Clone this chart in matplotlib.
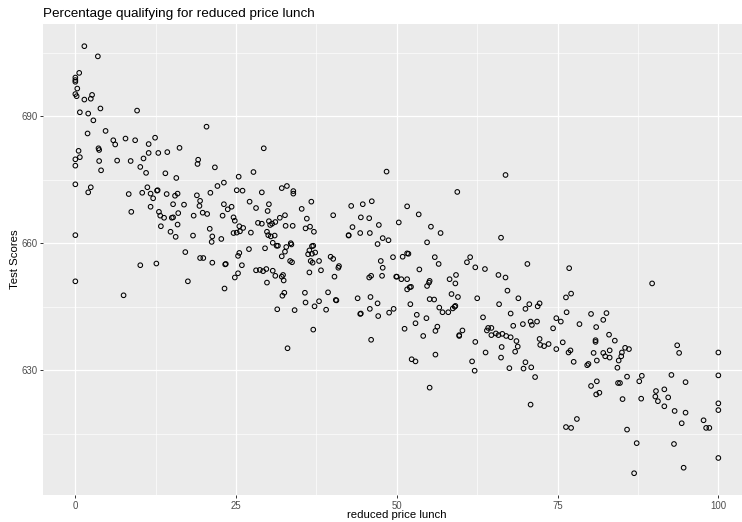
import matplotlib
matplotlib.use("Agg")
import matplotlib.pyplot as plt
import numpy as np

plt.rcParams['font.family'] = ['Liberation Sans', 'DejaVu Sans']

# (reduced price lunch %, test score) pairs
points = [
    # upper-left block
    (1.4,706.5),(3.5,704.1),(0.6,700.2),(0,699.1),(0,698.5),(0,698.1),(0.3,696.5),(0,695.2),(0.2,694.7),(1.4,693.9),
    (2.6,695.0),(2.4,694.1),(3.9,691.8),(0.7,690.9),(2.0,690.6),(9.6,691.3),(2.8,689.0),(1.9,685.9),(4.7,686.5),(20.4,687.5),
    (5.9,684.3),(6.2,683.3),(7.8,684.7),(9.3,684.3),(12.4,684.9),(11.4,683.4),(16.2,682.5),(0.5,681.8),(0.7,680.3),(0,679.8),
    (0,678.3),(3.6,682.4),(3.7,682.0),(3.7,679.4),(4.0,677.2),(6.5,679.5),(8.6,679.4),(11.4,681.3),(12.9,681.3),(14.3,681.5),
    (10.6,680.0),(10.1,678.0),(11.0,676.6),(14.0,676.5),(15.7,675.4),(19.1,679.7),(19.0,678.7),(21.7,677.9),(0,673.9),(2.4,673.2),
    (2.0,672.0),(8.3,671.6),(10.4,671.9),(11.2,673.2),(12.8,672.5),(12.7,672.4),(11.7,671.7),(12.1,670.6),(14.2,671.6),(15.5,671.2),
    (15.9,671.7),(15.2,669.2),(16.9,669.1),(18.9,671.3),(19.4,670.0),(19.3,668.8),(21.0,671.9),(22.1,673.5),(8.7,667.4),(11.7,668.6),
    (13.0,667.4),(13.2,666.5),(13.8,666.0),(15.0,666.0),(15.2,666.1),(16.0,667.1),(13.3,664.0),(15.9,664.4),(14.8,662.7),(15.6,661.5),
    (18.4,666.5),(19.8,667.2),(20.5,666.9),(20.9,663.4),(21.3,661.6),(21.2,660.3),(0,661.9),(18.3,661.8),(17.1,657.9),
    # upper-middle block
    (29.3,682.4),(27.7,676.8),(25.4,675.7),(48.4,676.9),(23.1,674.3),(25.1,672.5),(26.0,672.4),(29.0,672.0),(32.1,673.0),(32.9,673.5),
    (33.9,672.3),(33.9,671.7),(23.1,669.2),(22.9,666.5),(23.7,668.0),(24.3,668.6),(22.7,661.0),(27.1,669.8),(28.1,668.3),(30.1,669.2),
    (29.9,667.6),(24.6,666.1),(24.8,665.3),(28.4,664.8),(29.0,664.6),(30.1,665.2),(30.6,664.6),(30.3,664.3),(31.1,665.0),(31.8,666.0),
    (32.6,666.6),(32.7,664.1),(33.8,664.1),(25.5,664.0),(26.1,663.6),(25.6,662.8),(25.1,662.5),(24.6,662.4),(27.3,662.5),(29.8,662.7),
    (30.0,661.9),(30.4,661.6),(31.0,661.8),(30.7,660.1),(31.3,659.4),(31.5,659.4),(33.5,660.0),(33.6,659.7),(32.8,659.1),(32.6,658.0),
    (29.5,658.8),(27.0,658.6),(25.5,657.7),(35.2,668.1),(36.7,669.8),(36.0,665.8),(36.5,663.9),(35.8,663.5),(37.1,662.7),(40.1,666.6),
    (42.9,668.8),(44.7,669.2),(46.1,669.9),(44.4,666.1),(45.7,665.9),(43.1,663.8),(47.2,664.3),(44.3,662.4),(45.8,662.4),(42.5,661.9),
    (42.5,661.8),(47.8,661.2),(48.7,660.7),(47.0,659.8),(36.8,659.3),(37.0,659.4),(36.4,658.3),(36.2,657.4),(36.8,657.5),(37.3,657.8),
    # upper-right block
    (66.9,676.1),(59.4,672.1),(51.6,668.7),(53.4,666.8),(50.3,664.9),(55.3,663.9),(56.8,662.4),(54.7,660.2),(66.2,661.3),(51.6,657.6),
    (51.8,657.5),
    # lower-left block
    (19.4,656.5),(19.9,656.5),(21.3,655.4),(10.1,654.8),(12.6,655.2),(0,651.0),(17.5,651.0),(7.5,647.7),
    # lower-middle block
    (25.3,657.0),(32.1,656.9),(23.3,655.0),(23.4,655.1),(25.9,654.8),(24.8,651.9),(25.3,652.9),(23.2,649.3),(28.1,653.6),(28.7,653.7),
    (29.2,653.4),(29.7,653.9),(30.7,653.5),(31.1,652.3),(29.8,650.7),(32.1,652.1),(32.3,652.5),(32.4,651.2),(32.2,647.6),(32.5,648.3),
    (31.4,644.4),(34.1,644.2),(33.0,635.2),(33.4,655.8),(33.7,655.5),(36.6,655.8),(36.9,655.4),(37.9,655.8),(36.4,653.1),(38.2,653.6),
    (39.7,656.8),(40.1,656.3),(41.0,654.6),(40.9,654.2),(40.3,652.1),(35.7,648.3),(39.3,648.4),(35.8,646.0),(37.9,646.3),(40.6,646.5),
    (40.5,646.6),(37.2,645.1),(39.0,644.3),(37.0,639.6),(43.9,647.0),(45.9,647.3),(45.7,651.9),(46.0,652.3),(47.7,652.3),(47.5,655.8),
    (47.8,654.2),(49.4,656.7),(49.9,652.1),(47.0,645.8),(45.8,644.5),(44.3,643.3),(44.4,643.4),(47.1,642.8),(48.8,643.6),(49.5,644.5),
    (46.0,637.2),
    # lower-right block
    (50.9,656.8),(55.9,656.7),(56.5,655.1),(61.4,656.7),(60.9,655.5),(53.5,653.8),(50.0,652.1),(50.7,651.5),(51.6,651.5),(51.6,649.1),
    (52.0,649.6),(52.2,649.7),(52.1,645.6),(55.1,651.1),(55.0,650.7),(54.7,649.9),(55.1,646.8),(55.8,646.7),(58.2,651.5),(59.2,652.5),
    (59.1,650.5),(58.5,648.0),(59.5,647.3),(56.6,644.8),(57.1,643.7),(58.0,643.7),(58.7,644.6),(59.0,645.0),(59.1,645.2),(53.1,643.1),
    (54.6,642.3),(52.9,641.1),(51.2,639.8),(56.3,640.3),(56.0,639.3),(54.1,638.1),(60.2,639.4),(59.7,638.3),(59.7,638.1),(62.2,654.3),
    (63.7,653.9),(62.5,647.0),(63.4,642.5),(62.2,636.7),(61.7,632.1),(62.1,629.9),(56.0,633.7),(52.3,632.6),(52.9,632.1),(55.1,625.9),
    (65.8,652.5),(66.9,651.9),(67.2,648.8),(70.3,655.1),(76.8,654.1),(68.9,647.0),(65.9,645.6),(67.7,643.4),(70.0,644.5),(70.6,645.6),
    (71.9,645.1),(72.2,645.8),(76.3,647.2),(77.1,648.1),(76.4,643.7),(68.1,640.5),(69.6,640.9),(70.8,641.5),(71.0,640.7),(71.8,641.5),
    (74.8,642.3),(75.5,641.5),(74.3,639.9),(64.0,639.4),(64.2,640.0),(64.7,640.0),(64.7,638.3),(65.4,638.7),(65.8,638.3),(66.4,638.6),
    (67.0,638.1),(67.7,637.8),(68.6,636.9),(68.8,635.6),(68.4,634.4),(66.3,635.5),(63.8,634.2),(66.2,633.0),(70.0,631.9),(67.5,630.5),
    (69.7,630.4),(70.9,630.7),(71.5,628.4),(70.8,621.9),(72.2,637.4),(72.3,636.0),(72.9,635.7),(73.6,636.2),(75.8,636.6),(74.8,635.0),
    (76.7,634.2),(77.0,634.7),(76.3,616.6),(77.1,616.4),
    # far-right block
    (89.7,650.5),(80.2,643.3),(82.6,643.5),(82.1,641.9),(78.4,640.9),(81.0,640.2),(83.0,638.4),(83.9,637.0),(80.9,637.1),(80.9,636.7),
    (80.6,634.1),(82.1,634.1),(82.4,633.3),(83.1,634.7),(83.1,633.0),(81.1,632.3),(77.5,632.0),(79.6,631.2),(79.8,631.5),(85.0,634.2),
    (85.5,635.3),(86.1,635.0),(84.9,633.3),(84.5,632.3),(84.3,630.6),(85.8,628.5),(84.4,627.0),(84.7,627.0),(81.1,627.4),(80.2,626.3),
    (81.0,624.3),(81.5,624.7),(85.1,623.2),(88.1,628.7),(87.7,627.4),(88.0,623.3),(85.8,616.0),(87.3,612.8),(86.9,605.7),(78.0,618.5),
    (93.6,635.9),(93.9,634.1),(92.7,628.9),(94.9,627.2),(90.3,625.1),(90.2,623.8),(90.6,622.7),(91.6,625.5),(92.2,623.6),(91.6,621.5),
    (93.2,620.4),(94.9,620.0),(94.3,617.5),(97.7,618.2),(98.1,616.4),(98.6,616.4),(93.1,612.6),(94.6,607.0),(100,634.2),(100,628.8),
    (100,622.2),(100,620.6),(100,609.3),
]
lunch = [p[0] for p in points]
score = [p[1] for p in points]

x_ticks = [0, 25, 50, 75, 100]
y_ticks = [630, 660, 690]
x_minor = [12.5, 37.5, 62.5, 87.5]
y_minor = [615, 645, 675, 705]

title = "Percentage qualifying for reduced price lunch"
xlabel = "reduced price lunch"
ylabel = "Test Scores"

W, H = 742, 522
fig = plt.figure(figsize=(W / 100, H / 100), dpi=100)
# panel in pixels: left 43.2, right 750.5 (clipped by image edge), top 23.7, bottom 495.3
L, R, T, B = 43.2, 750.5, 23.7, 495.3
ax = fig.add_axes([L / W, 1 - B / H, (R - L) / W, (B - T) / H])
ax.set_facecolor('#EBEBEB')
for s in ax.spines.values():
    s.set_visible(False)

ax.set_xlim(-5, 105)
ax.set_ylim(600.49, 711.81)
ax.set_xticks(x_ticks)
ax.set_yticks(y_ticks)
ax.set_xticks(x_minor, minor=True)
ax.set_yticks(y_minor, minor=True)
ax.grid(which='major', color='white', linewidth=0.9)
ax.grid(which='minor', color='white', linewidth=0.45)
ax.set_axisbelow(True)
ax.tick_params(which='minor', length=0)
ax.tick_params(which='major', length=2.2, width=0.7, color='#333333',
               labelcolor='#4D4D4D', labelsize=6.9, pad=1.8)

ax.scatter(lunch, score, s=11, facecolors='none', edgecolors='black',
           linewidths=0.75, zorder=3)

fig.text(L / W, 1 - 16.7 / H, title, fontsize=9.7, ha='left', va='baseline', color='black')
fig.text((L + R) / 2 / W, 1 - 515.5 / H, xlabel, fontsize=8.2, ha='center', va='center', color='black')
fig.text(14.5 / W, 1 - (T + B) / 2 / H, ylabel, fontsize=8.2, ha='center', va='center',
         rotation=90, color='black')

fig.savefig('out.png', dpi=100)
